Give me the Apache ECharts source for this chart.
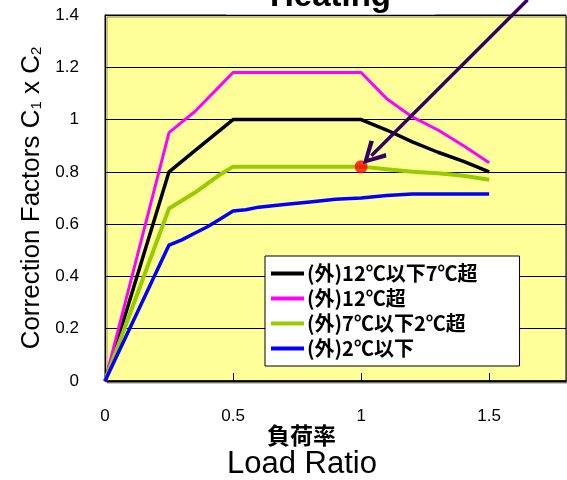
<!DOCTYPE html>
<html>
<head>
<meta charset="utf-8">
<script src="https://cdn.jsdelivr.net/npm/echarts@6/dist/echarts.min.js"></script>
<style>
  html, body { margin: 0; padding: 0; background: #fff; }
  #main { width: 567px; height: 480px; }
</style>
</head>
<body>
<div id="main"></div>
<script>
// 凡例名
var seriesNames = ['(外)12℃以下7℃超', '(外)12℃超', '(外)7℃以下2℃超', '(外)2℃以下'];
var seriesColors = ['#000000', '#ff00ff', '#99cc00', '#0000ff'];

// 負荷率 x 補正係数
var black = [[0, 0], [0.25, 0.8], [0.35, 0.88], [0.5, 1.0], [1.0, 1.0], [1.1, 0.96], [1.2, 0.915], [1.3, 0.875], [1.4, 0.84], [1.5, 0.8]];
var magenta = [[0, 0], [0.25, 0.95], [0.35, 1.03], [0.45, 1.13], [0.5, 1.18], [1.0, 1.18], [1.05, 1.13], [1.1, 1.08], [1.2, 1.01], [1.3, 0.96], [1.4, 0.9], [1.5, 0.835]];
var green = [[0, 0], [0.25, 0.66], [0.35, 0.72], [0.45, 0.79], [0.5, 0.82], [1.0, 0.82], [1.1, 0.81], [1.2, 0.8], [1.3, 0.795], [1.4, 0.785], [1.5, 0.77]];
var blue = [[0, 0], [0.25, 0.52], [0.3, 0.54], [0.35, 0.565], [0.4, 0.59], [0.45, 0.62], [0.5, 0.65], [0.55, 0.655], [0.6, 0.665], [0.7, 0.675], [0.8, 0.685], [0.9, 0.695], [1.0, 0.7], [1.1, 0.71], [1.2, 0.715], [1.3, 0.715], [1.4, 0.715], [1.5, 0.715]];

// 赤丸と矢印
var redDot = [[1.0, 0.82]];
var arrowFrom = [1.65, 1.458];
var arrowTo = [1.04, 0.862];

var chart = echarts.init(document.getElementById('main'));

function lineSeries(name, data, color, width) {
    return {
        name: name,
        type: 'line',
        data: data,
        showSymbol: false,
        symbol: 'none',
        lineStyle: { color: color, width: width },
        itemStyle: { color: color },
        z: 3
    };
}

chart.setOption({
    animation: false,
    title: [
        {
            text: 'Heating',
            left: 226,
            top: -19,
            backgroundColor: '#fff',
            padding: [0, 44, 1, 44],
            textStyle: { fontFamily: 'Liberation Sans', fontWeight: 'bold', fontSize: 33, lineHeight: 32, color: '#000' }
        },
        {
            text: '負荷率',
            left: 267,
            top: 424,
            padding: 0,
            textStyle: { fontFamily: 'Noto Sans CJK JP', fontWeight: 'bold', fontSize: 23, color: '#000' }
        },
        {
            text: 'Load Ratio',
            left: 227,
            top: 449,
            padding: 0,
            textStyle: { fontFamily: 'Liberation Sans', fontWeight: 'normal', fontSize: 31, color: '#000' }
        }
    ],
    legend: {
        data: seriesNames,
        orient: 'vertical',
        left: 265,
        top: 256,
        backgroundColor: '#fff',
        borderColor: '#000',
        borderWidth: 1,
        padding: [7, 42, 7, 6],
        icon: 'rect',
        itemWidth: 33,
        itemHeight: 4,
        itemGap: 4,
        textStyle: { fontFamily: 'Noto Sans CJK JP', fontWeight: 'bold', fontSize: 20, lineHeight: 21, color: '#000', padding: [0, 0, 0, -2] }
    },
    grid: {
        left: 105,
        right: 1,
        top: 15,
        bottom: 99,
        show: true,
        backgroundColor: '#ffff99',
        borderColor: '#000',
        borderWidth: 1,
        shadowColor: 'rgba(0,0,0,0.45)',
        shadowOffsetX: 2,
        shadowOffsetY: 2
    },
    xAxis: {
        type: 'value',
        min: 0,
        max: 1.8,
        interval: 0.5,
        axisLine: { show: true, lineStyle: { color: '#000', width: 1.5 } },
        axisTick: { show: true, inside: true, length: 8, lineStyle: { color: '#000' } },
        axisLabel: { showMaxLabel: false, margin: 27, fontFamily: 'Liberation Sans', fontSize: 17, color: '#000' },
        splitLine: { show: false }
    },
    yAxis: {
        type: 'value',
        min: 0,
        max: 1.4,
        interval: 0.2,
        name: '{n|Correction Factors C}{s|1}{n| x C}{s|2}',
        nameLocation: 'middle',
        nameGap: 58,
        nameRotate: 90,
        nameTextStyle: {
            rich: {
                n: { fontFamily: 'Liberation Sans', fontSize: 26, color: '#000' },
                s: { fontFamily: 'Liberation Sans', fontSize: 15, color: '#000', padding: [11, 0, 0, 0] }
            }
        },
        axisLine: { show: true, lineStyle: { color: '#000', width: 1 } },
        axisTick: { show: false },
        axisLabel: { margin: 26, fontFamily: 'Liberation Sans', fontSize: 17, color: '#000' },
        splitLine: { show: true, lineStyle: { color: '#000', width: 1 } }
    },
    series: [
        lineSeries(seriesNames[0], black, seriesColors[0], 3.5),
        lineSeries(seriesNames[1], magenta, seriesColors[1], 3),
        lineSeries(seriesNames[2], green, seriesColors[2], 4),
        lineSeries(seriesNames[3], blue, seriesColors[3], 3.5),
        {
            name: 'dot',
            type: 'scatter',
            data: redDot,
            symbolSize: 13,
            itemStyle: { color: '#ff0000' },
            z: 5
        },
        {
            name: 'arrow',
            type: 'lines',
            coordinateSystem: 'cartesian2d',
            clip: false,
            silent: true,
            symbol: ['none', 'path://M10,0 L20,16 L17,18 L10,6 L3,18 L0,16 Z'],
            symbolSize: 24,
            lineStyle: { color: '#330066', width: 3.5, opacity: 1 },
            itemStyle: { color: '#330066' },
            data: [{ coords: [arrowFrom, arrowTo] }],
            z: 6
        }
    ]
});
</script>
</body>
</html>
